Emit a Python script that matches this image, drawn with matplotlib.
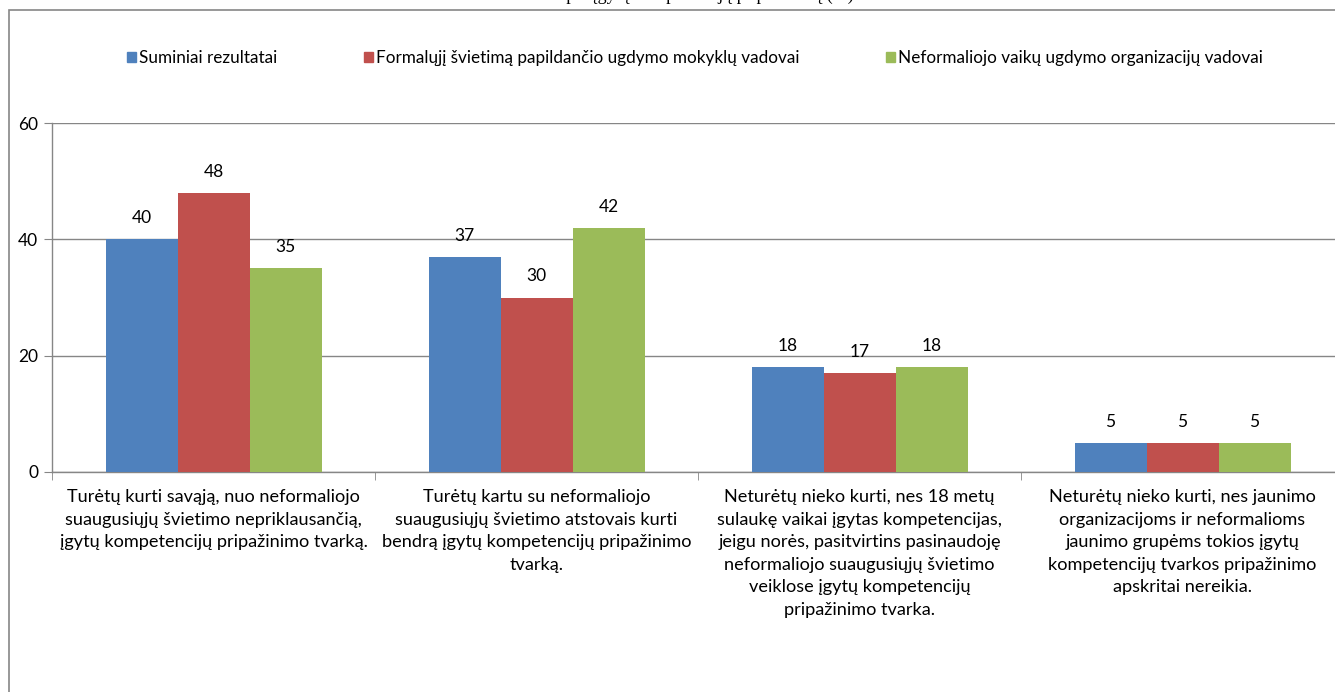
import matplotlib
matplotlib.use("Agg")
import matplotlib.pyplot as plt
from matplotlib.patches import Rectangle, Patch
import numpy as np

categories = [
    "Turėtų kurti savąją, nuo neformaliojo\nsuaugusiųjų švietimo nepriklausančią,\nįgytų kompetencijų pripažinimo tvarką.",
    "Turėtų kartu su neformaliojo\nsuaugusiųjų švietimo atstovais kurti\nbendrą įgytų kompetencijų pripažinimo\ntvarką.",
    "Neturėtų nieko kurti, nes 18 metų\nsulaukę vaikai įgytas kompetencijas,\njeigu norės, pasitvirtins pasinaudoję\nneformaliojo suaugusiųjų švietimo\nveiklose įgytų kompetencijų\npripažinimo tvarka.",
    "Neturėtų nieko kurti, nes jaunimo\norganizacijoms ir neformalioms\njaunimo grupėms tokios įgytų\nkompetencijų tvarkos pripažinimo\napskritai nereikia.",
]
series_names = [
    "Suminiai rezultatai",
    "Formalųjį švietimą papildančio ugdymo mokyklų vadovai",
    "Neformaliojo vaikų ugdymo organizacijų vadovai",
]
suminiai = [40, 37, 18, 5]
formalusis = [48, 30, 17, 5]
neformalusis = [35, 42, 18, 5]
yticks = [0, 20, 40, 60]
title = "Nuomonės apie įgytų kompetencijų pripažinimą (%)"

colors = ["#4F81BD", "#C0504D", "#9BBB59"]
FONT = "Lato"
plt.rcParams["font.family"] = [FONT, "DejaVu Sans"]

W, H = 1335, 692
fig = plt.figure(figsize=(W / 100, H / 100), dpi=100)
fig.patch.set_facecolor("white")

x0, x1 = 52, 1344
ytop, ybot = 123, 472
ax = fig.add_axes([x0 / W, 1 - ybot / H, (x1 - x0) / W, (ybot - ytop) / H])

data = [suminiai, formalusis, neformalusis]
n = len(categories)
xs = np.arange(n)
w = 72 / 323
for k, (vals, c, name) in enumerate(zip(data, colors, series_names)):
    pos = xs + (k - 1) * w
    ax.bar(pos, vals, width=w, color=c, edgecolor="none", zorder=3, label=name)
    for p, v in zip(pos, vals):
        ax.annotate(str(v), (p, v), xytext=(0, 9.5), textcoords="offset points",
                    ha="center", va="bottom", fontsize=12.5, color="black")

ax.set_xlim(-0.5, n - 0.5)
ax.set_ylim(0, 60)
ax.set_yticks(yticks)
ax.yaxis.grid(True, color="#868686", linewidth=1, zorder=0)
ax.set_axisbelow(True)
for s in ["top", "right"]:
    ax.spines[s].set_visible(False)
for s in ["left", "bottom"]:
    ax.spines[s].set_color("#868686")
    ax.spines[s].set_linewidth(1)
ax.tick_params(axis="y", length=6, color="#868686", labelsize=12.5, pad=4)
ax.set_xticks(xs)
ax.set_xticklabels(categories, fontsize=13.1, linespacing=1.5)
ax.tick_params(axis="x", length=0, pad=12.5)
ax.set_xticks(np.arange(n + 1) - 0.5, minor=True)
ax.tick_params(axis="x", which="minor", length=6, color="#868686")

handles = [Patch(color=c) for c in colors]
fig.legend(handles, series_names, loc="center", bbox_to_anchor=(695 / W, 1 - 58 / H),
           ncol=3, frameon=False, fontsize=12.35, handlelength=0.55, handleheight=0.55,
           handletextpad=0.2, columnspacing=5.0)

fig.add_artist(Rectangle((9 / W, -0.1), 1.2, (H - 10) / H + 0.1, transform=fig.transFigure,
                         fill=False, edgecolor="#868686", linewidth=1.2))
fig.text(665 / W, 1 + 0.5 / H, title, ha="center", va="baseline",
         family="Liberation Serif", fontsize=13, color="black")

fig.savefig("out.png", dpi=100)
